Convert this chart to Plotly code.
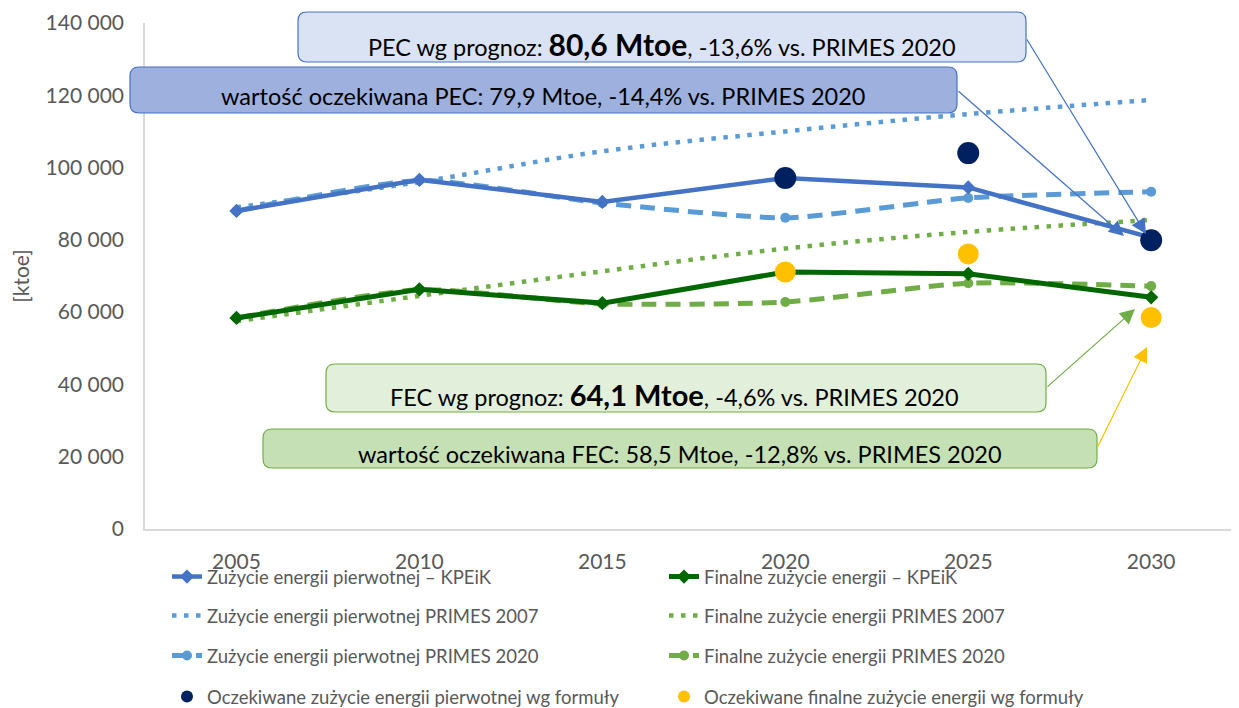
import plotly.graph_objects as go

# ---------------- data ----------------
years = [2005, 2010, 2015, 2020, 2025, 2030]
pec_kpeik = [88000, 96600, 90500, 97100, 94500, 80600]
pec_primes2007 = [89000, 96000, 104500, 110000, 114800, 118700]
pec_primes2020 = [88000, 96400, 90200, 86100, 91600, 93300]
fec_kpeik = [58400, 66300, 62500, 71100, 70600, 64100]
fec_primes2007 = [57500, 64500, 71300, 77600, 82200, 85500]
fec_primes2020 = [58400, 66200, 62300, 62800, 68000, 67200]
expected_years = [2020, 2025, 2030]
pec_expected = [97100, 104000, 79900]
fec_expected = [71100, 76100, 58500]

y_ticks = [0, 20000, 40000, 60000, 80000, 100000, 120000, 140000]
y_tick_labels = ["0", "20 000", "40 000", "60 000", "80 000", "100 000", "120 000", "140 000"]

names = {
    "pec_kpeik": "Zużycie energii pierwotnej – KPEiK",
    "fec_kpeik": "Finalne zużycie energii – KPEiK",
    "pec_p07": "Zużycie energii pierwotnej PRIMES 2007",
    "fec_p07": "Finalne zużycie energii PRIMES 2007",
    "pec_p20": "Zużycie energii pierwotnej PRIMES 2020",
    "fec_p20": "Finalne zużycie energii PRIMES 2020",
    "pec_exp": "Oczekiwane zużycie energii pierwotnej wg formuły",
    "fec_exp": "Oczekiwane finalne zużycie energii wg formuły",
}

# ---------------- geometry (screen px; page body has an 8px margin) ----------------
OFF = 8
W, H = 1239 - OFF, 708 - OFF
PLOT_L, PLOT_R, PLOT_T, PLOT_B = 145, 1239, 23, 529   # screen px
ML = PLOT_L - OFF
MT = PLOT_T - OFF
MR = (W + OFF) - PLOT_R
MB = (H + OFF) - PLOT_B
PW = PLOT_R - PLOT_L
PH = PLOT_B - PLOT_T
X_RANGE = [2002.5, 2032.4]
Y_RANGE = [0, 140000]


def px(xs):
    return (xs - PLOT_L) / PW


def py(ys):
    return (PLOT_B - ys) / PH


def dx(xs):
    return X_RANGE[0] + px(xs) * (X_RANGE[1] - X_RANGE[0])


def dy(ys):
    return Y_RANGE[0] + py(ys) * (Y_RANGE[1] - Y_RANGE[0])


def rrect(x0, y0, x1, y1, r=8):
    def P(a, b):
        return f"{px(a):.5f},{py(b):.5f}"
    return (f"M{P(x0 + r, y0)} L{P(x1 - r, y0)} Q{P(x1, y0)} {P(x1, y0 + r)} "
            f"L{P(x1, y1 - r)} Q{P(x1, y1)} {P(x1 - r, y1)} L{P(x0 + r, y1)} "
            f"Q{P(x0, y1)} {P(x0, y1 - r)} L{P(x0, y0 + r)} Q{P(x0, y0)} {P(x0 + r, y0)} Z")


BLUE = "#4472C4"
LBLUE = "#5B9BD5"
NAVY = "#002060"
DGREEN = "#006600"
LGREEN = "#70AD47"
YELLOW = "#FFC000"

fig = go.Figure()

# PRIMES 2007 (dotted)
fig.add_trace(go.Scatter(x=years, y=pec_primes2007, name=names["pec_p07"], mode="lines",
                         line=dict(color=LBLUE, width=4.5, dash="4.5px,7.5px", shape="spline", smoothing=1),
                         legend="legend2"))
fig.add_trace(go.Scatter(x=years, y=fec_primes2007, name=names["fec_p07"], mode="lines",
                         line=dict(color=LGREEN, width=4.5, dash="4.5px,7.5px", shape="spline", smoothing=1),
                         legend="legend2"))
# PRIMES 2020 (dashed)
fig.add_trace(go.Scatter(x=years, y=pec_primes2020, name=names["pec_p20"], mode="lines+markers",
                         line=dict(color=LBLUE, width=5, dash="15px,9px", shape="spline", smoothing=0.6),
                         marker=dict(symbol="circle", size=10, color=LBLUE),
                         legend="legend3"))
fig.add_trace(go.Scatter(x=years, y=fec_primes2020, name=names["fec_p20"], mode="lines+markers",
                         line=dict(color=LGREEN, width=5, dash="15px,9px", shape="spline", smoothing=0.6),
                         marker=dict(symbol="circle", size=10, color=LGREEN),
                         legend="legend3"))
# KPEiK (solid)
fig.add_trace(go.Scatter(x=years, y=pec_kpeik, name=names["pec_kpeik"], mode="lines+markers",
                         line=dict(color=BLUE, width=4.5),
                         marker=dict(symbol="diamond", size=11, color=BLUE),
                         legend="legend"))
fig.add_trace(go.Scatter(x=years, y=fec_kpeik, name=names["fec_kpeik"], mode="lines+markers",
                         line=dict(color=DGREEN, width=5),
                         marker=dict(symbol="diamond", size=11, color=DGREEN),
                         legend="legend"))
# Expected (formula)
fig.add_trace(go.Scatter(x=expected_years, y=pec_expected, name=names["pec_exp"], mode="markers",
                         marker=dict(symbol="circle", size=22, color=NAVY),
                         legend="legend4"))
fig.add_trace(go.Scatter(x=expected_years, y=fec_expected, name=names["fec_exp"], mode="markers",
                         marker=dict(symbol="circle", size=21, color=YELLOW),
                         legend="legend4"))

FONT = "Lato"
TXT = "#595959"

# boxes (screen px)
boxes = [
    (298, 12, 1026, 62, "#DAE3F3", BLUE),
    (130, 67, 957, 113, "#9DB0DE", BLUE),
    (326, 364, 1046, 412, "#E2EFDA", LGREEN),
    (263, 429, 1097, 468, "#C5E0B4", LGREEN),
]
shapes = []
for (x0, y0, x1, y1, fc, lc) in boxes:
    shapes.append(dict(type="path", path=rrect(x0, y0, x1, y1, 9), xref="paper", yref="paper",
                       fillcolor=fc, line=dict(color=lc, width=1.2), layer="above"))

texts = [
    (662, 44, "PEC wg prognoz: <b><span style='font-size:30px'>80,6 Mtoe</span></b>, -13,6% vs. PRIMES 2020"),
    (543, 96, "wartość oczekiwana PEC: 79,9 Mtoe, -14,4% vs. PRIMES 2020"),
    (674, 394, "FEC wg prognoz: <b><span style='font-size:29px'>64,1 Mtoe</span></b>, -4,6% vs. PRIMES 2020"),
    (680, 454, "wartość oczekiwana FEC: 58,5 Mtoe, -12,8% vs. PRIMES 2020"),
]
annotations = []
for (cx, cy, t) in texts:
    annotations.append(dict(x=px(cx), y=py(cy), xref="paper", yref="paper", text=t, showarrow=False,
                            font=dict(family=FONT, size=23.5, color="black"), xanchor="center", yanchor="middle"))

# arrows: (tail x, tail y, head x, head y, color) in screen px
arrows = [
    (1026, 38, 1146, 234, BLUE),
    (957, 90, 1124, 236, BLUE),
    (1046, 388, 1135, 309, LGREEN),
    (1097, 448, 1147, 347, YELLOW),
]
for (tx, ty, hx, hy, c) in arrows:
    annotations.append(dict(x=dx(hx), y=dy(hy), xref="x", yref="y", ax=dx(tx), ay=dy(ty),
                            axref="x", ayref="y", text="", showarrow=True, arrowhead=2,
                            arrowsize=2.5, arrowwidth=1.2, arrowcolor=c, standoff=0))

legend_common = dict(orientation="h", xanchor="left", yanchor="middle", entrywidth=452,
                     entrywidthmode="pixels", font=dict(family=FONT, size=18.5, color=TXT),
                     bgcolor="rgba(0,0,0,0)", borderwidth=0)
LX = px(167)
rows = [577, 616, 656, 697]

fig.update_layout(
    width=W, height=H,
    margin=dict(l=ML, r=MR, t=MT, b=MB, autoexpand=False),
    paper_bgcolor="white", plot_bgcolor="white",
    font=dict(family=FONT, color=TXT),
    showlegend=True,
    legend=dict(x=LX, y=py(rows[0]), **legend_common),
    legend2=dict(x=LX, y=py(rows[1]), **legend_common),
    legend3=dict(x=LX, y=py(rows[2]), **legend_common),
    legend4=dict(x=LX, y=py(rows[3]), itemsizing="constant", **legend_common),
    xaxis=dict(range=X_RANGE, tickvals=years, ticktext=[str(y) for y in years], showgrid=False,
               zeroline=False, showline=True, linecolor="#D9D9D9", linewidth=1.5,
               ticks="", tickfont=dict(family=FONT, size=21, color=TXT), ticklabelstandoff=13),
    yaxis=dict(range=Y_RANGE, tickvals=y_ticks, ticktext=y_tick_labels, showgrid=False,
               zeroline=False, showline=True, linecolor="#D9D9D9", linewidth=1.5,
               ticks="", tickfont=dict(family=FONT, size=21, color=TXT), ticklabelstandoff=15,
               title=dict(text="[ktoe]", font=dict(family=FONT, size=21, color=TXT), standoff=19)),
    shapes=shapes,
    annotations=annotations,
)

fig.write_html("out.html")
